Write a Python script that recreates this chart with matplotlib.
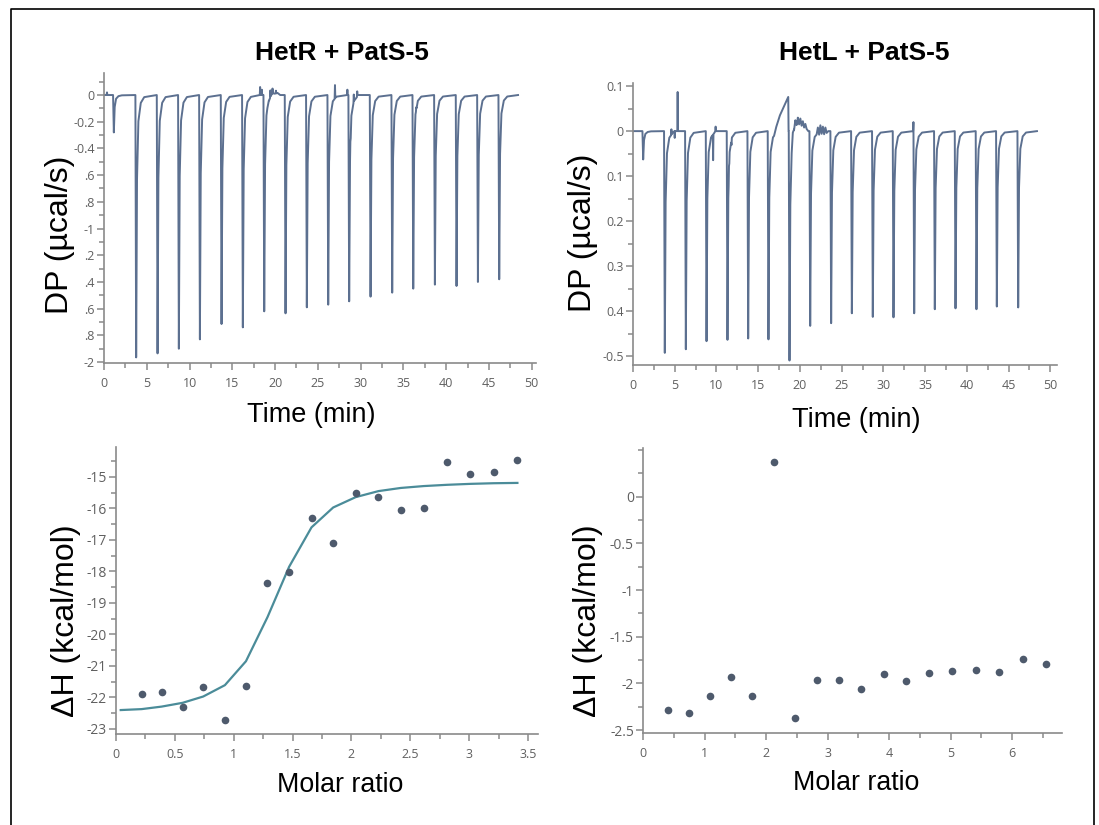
import matplotlib
matplotlib.use("Agg")
import numpy as np
import matplotlib.pyplot as plt
from matplotlib.lines import Line2D
from matplotlib.ticker import MultipleLocator, FixedLocator, FuncFormatter

# ---- data ----
# HetR + PatS-5 thermogram: injection times (min) and peak DP (ucal/s)
hetr_inj_t = [1.09, 3.70, 6.20, 8.69, 11.15, 13.68, 16.17, 18.67, 21.16, 23.65,
              26.15, 28.60, 31.10, 33.63, 36.09, 38.62, 41.15, 43.65, 46.14]
hetr_inj_dp = [-0.28, -1.965, -1.935, -1.90, -1.83, -1.715, -1.74, -1.62, -1.635, -1.59,
               -1.57, -1.545, -1.51, -1.48, -1.45, -1.42, -1.43, -1.40, -1.38]
# short spikes on the baseline (time, DP)
hetr_spike_t = [0.35, 18.25, 18.45, 19.45, 19.7, 20.1, 27.0, 28.45, 28.8, 29.2, 29.6, 36.5]
hetr_spike_dp = [0.02, 0.06, 0.04, 0.05, 0.03, 0.02, 0.10, 0.04, 0.06, 0.05, 0.04, 0.02]
# slow baseline drift / noise (time, DP)
hetr_drift_t = [18.9, 19.1, 19.3, 19.55, 19.9, 20.3, 20.6]
hetr_drift_dp = [0.0, 0.02, 0.005, 0.025, 0.01, 0.015, 0.0]
hetr_end = 48.4

# HetL + PatS-5 thermogram
hetl_inj_t = [1.16, 3.75, 6.27, 8.75, 11.26, 13.74, 16.17, 18.69, 21.17, 23.68,
              26.16, 28.67, 31.15, 33.63, 36.10, 38.58, 41.09, 43.53, 46.09]
hetl_inj_dp = [-0.063, -0.493, -0.485, -0.467, -0.464, -0.461, -0.463, -0.510, -0.433, -0.427,
               -0.425, -0.413, -0.414, -0.405, -0.396, -0.394, -0.396, -0.390, -0.392]
hetl_spike_t = [4.6, 5.0, 5.35, 9.6, 9.9, 11.5, 11.8, 26.2, 33.6, 38.6]
hetl_spike_dp = [0.012, -0.015, 0.087, -0.057, 0.01, 0.02, -0.01, 0.04, 0.02, 0.01]
hetl_drift_t = [16.9, 17.6, 18.6, 18.64,
                19.0, 19.15, 19.3, 19.45, 19.6, 19.75, 19.9, 20.05, 20.2, 20.35, 20.5, 20.65, 20.8, 21.0,
                22.0, 22.15, 22.3, 22.45, 22.6, 22.75, 22.9, 23.05, 23.2, 23.4]
hetl_drift_dp = [0.0, 0.035, 0.076, 0.0,
                 0.0, 0.03, 0.018, 0.035, 0.02, 0.03, 0.015, 0.028, 0.012, 0.022, 0.008, 0.016, 0.005, 0.0,
                 0.0, 0.012, -0.008, 0.013, -0.006, 0.01, -0.007, 0.008, -0.004, 0.0]
hetl_end = 48.4

# integrated heats
hetr_ratio = [0.218, 0.388, 0.566, 0.741, 0.925, 1.104, 1.287, 1.471, 1.661,
              1.845, 2.037, 2.230, 2.419, 2.615, 2.813, 3.011, 3.209, 3.410]
hetr_dh = [-21.90, -21.82, -22.30, -21.66, -22.72, -21.63, -18.36, -18.03, -16.29,
           -17.11, -15.52, -15.65, -16.05, -15.99, -14.53, -14.92, -14.83, -14.46]
fit_ratio = [0.04] + hetr_ratio
fit_dh = [-22.40, -22.37, -22.29, -22.17, -21.97, -21.61, -20.85, -19.45, -17.85,
          -16.60, -15.97, -15.64, -15.45, -15.35, -15.29, -15.25, -15.22, -15.20, -15.19]

hetl_ratio = [0.407, 0.753, 1.095, 1.431, 1.778, 2.125, 2.477, 2.829, 3.192,
              3.550, 3.913, 4.282, 4.650, 5.030, 5.409, 5.789, 6.173, 6.558]
hetl_dh = [-2.286, -2.314, -2.136, -1.929, -2.129, 0.368, -2.371, -1.964, -1.964,
           -2.054, -1.900, -1.971, -1.893, -1.868, -1.854, -1.879, -1.739, -1.793]

hetr_ylabels = ["0", "-0.2", "-0.4", ".6", ".8", "-1", ".2", ".4", ".6", ".8", "-2"]
hetl_ylabels = ["0.1", "0", "0.1", "0.2", "0.3", "0.4", "-0.5"]

TRACE = "#5c7090"
FIT = "#4b8c99"
DOT = "#4e5a6c"
SPINE = "#8a8a8a"
TICKTXT = "#606060"
W, H = 1099, 825

plt.rcParams["font.family"] = ["Liberation Sans", "DejaVu Sans"]


def trace(inj_t, inj_dp, sp_t, sp_dp, dr_t, dr_dp, end):
    # each injection: sharp dip and fast recovery; components are summed
    parts = []
    for t, p in zip(inj_t, inj_dp):
        parts.append(([t - 0.03, t + 0.06, t + 0.16, t + 0.32, t + 0.6, t + 1.0],
                      [0.0, p, 0.32 * p, 0.1 * p, 0.03 * p, 0.008 * p]))
    for t, v in zip(sp_t, sp_dp):
        parts.append(([t - 0.04, t, t + 0.04], [0.0, v, 0.0]))
    parts.append((dr_t, dr_dp))
    grid = sorted(set([0.0, end] + [x for xs, _ in parts for x in xs]))
    grid = np.array([g for g in grid if 0 <= g <= end])
    y = np.zeros_like(grid)
    for xs, ys in parts:
        y += np.interp(grid, xs, ys, left=0.0, right=0.0)
    return grid, y


def make_axes(l, t, r, b, lsize):
    ax = fig.add_axes([l / W, 1 - b / H, (r - l) / W, (b - t) / H])
    for s in ["top", "right"]:
        ax.spines[s].set_visible(False)
    for s in ["left", "bottom"]:
        ax.spines[s].set_color(SPINE)
        ax.spines[s].set_linewidth(1.2)
    ax.tick_params(which="both", direction="out", color=SPINE, width=1.1,
                   labelcolor=TICKTXT, labelsize=9)
    ax.tick_params(axis="y", labelsize=lsize)
    ax.tick_params(which="major", length=5)
    ax.tick_params(which="minor", length=3.5)
    ax.tick_params(axis="y", pad=1.5)
    ax.tick_params(axis="x", pad=5)
    return ax


def fmt(v, pos):
    return "{:g}".format(v)


fig = plt.figure(figsize=(W / 100, H / 100), dpi=100)

# ---- top left: HetR thermogram ----
ax1 = make_axes(104, 73, 536, 363, 9)
tx, ty = trace(hetr_inj_t, hetr_inj_dp, hetr_spike_t, hetr_spike_dp,
               hetr_drift_t, hetr_drift_dp, hetr_end)
ax1.plot(tx, ty, color=TRACE, lw=1.4)
ax1.set_xlim(0, 50.5)
ax1.set_ylim(-2.007, 0.165)
ax1.yaxis.set_major_locator(FixedLocator([-0.2 * i for i in range(11)]))
ax1.set_yticklabels(hetr_ylabels)
ax1.yaxis.set_minor_locator(MultipleLocator(0.1))
ax1.xaxis.set_major_locator(MultipleLocator(5))
ax1.xaxis.set_minor_locator(MultipleLocator(2.5))

# ---- top right: HetL thermogram ----
ax2 = make_axes(633, 83, 1057, 365, 9)
tx, ty = trace(hetl_inj_t, hetl_inj_dp, hetl_spike_t, hetl_spike_dp,
               hetl_drift_t, hetl_drift_dp, hetl_end)
ax2.plot(tx, ty, color=TRACE, lw=1.4)
ax2.set_xlim(0, 50.8)
ax2.set_ylim(-0.52, 0.107)
ax2.yaxis.set_major_locator(FixedLocator([0.1 - 0.1 * i for i in range(7)]))
ax2.set_yticklabels(hetl_ylabels)
ax2.yaxis.set_minor_locator(MultipleLocator(0.05))
ax2.xaxis.set_major_locator(MultipleLocator(5))
ax2.xaxis.set_minor_locator(MultipleLocator(2.5))

# ---- bottom left: HetR isotherm ----
ax3 = make_axes(116, 447, 538, 734, 10)
ax3.plot(fit_ratio, fit_dh, color=FIT, lw=1.6)
ax3.plot(hetr_ratio, hetr_dh, "o", color=DOT, ms=5.5, mec="none")
ax3.set_xlim(0, 3.585)
ax3.set_ylim(-23.16, -14.05)
ax3.yaxis.set_major_locator(MultipleLocator(1))
ax3.yaxis.set_minor_locator(MultipleLocator(0.5))
ax3.xaxis.set_major_locator(MultipleLocator(0.5))
ax3.xaxis.set_minor_locator(MultipleLocator(0.25))
ax3.xaxis.set_major_formatter(FuncFormatter(fmt))
ax3.yaxis.set_major_formatter(FuncFormatter(fmt))

# ---- bottom right: HetL isotherm ----
ax4 = make_axes(643, 448, 1062, 733, 10)
ax4.plot(hetl_ratio, hetl_dh, "o", color=DOT, ms=5.5, mec="none")
ax4.set_xlim(0, 6.81)
ax4.set_ylim(-2.53, 0.52)
ax4.yaxis.set_major_locator(FixedLocator([0, -0.5, -1, -1.5, -2, -2.5]))
ax4.yaxis.set_minor_locator(MultipleLocator(0.25))
ax4.xaxis.set_major_locator(MultipleLocator(1))
ax4.xaxis.set_minor_locator(MultipleLocator(0.5))
ax4.xaxis.set_major_formatter(FuncFormatter(fmt))
ax4.yaxis.set_major_formatter(FuncFormatter(fmt))

for ax in (ax1, ax2, ax3, ax4):
    for lab in ax.get_xticklabels() + ax.get_yticklabels():
        lab.set_family(["Open Sans", "DejaVu Sans"])


def ftext(x, y, s, **kw):
    fig.text(x / W, 1 - y / H, s, ha="center", va="center", **kw)


ftext(342, 53, "HetR + PatS-5", fontsize=19, fontweight="bold")
ftext(864, 53, "HetL + PatS-5", fontsize=19, fontweight="bold")
ftext(60, 235, "DP (µcal/s)", fontsize=23, rotation=90)
ftext(583, 233, "DP (µcal/s)", fontsize=23, rotation=90)
ftext(311, 415, "Time (min)", fontsize=19.5)
ftext(856, 420, "Time (min)", fontsize=19.5)
ftext(66, 621, "ΔH (kcal/mol)", fontsize=23, rotation=90)
ftext(588, 621, "ΔH (kcal/mol)", fontsize=23, rotation=90)
ftext(340, 785, "Molar ratio", fontsize=19.3)
ftext(856, 783, "Molar ratio", fontsize=19.3)

# thin frame around the figure (left, top, right)
fig.add_artist(Line2D([11 / W, 11 / W, 1094 / W, 1094 / W],
                      [0, 1 - 9 / H, 1 - 9 / H, 0], color="black", lw=1.2))

fig.savefig("out.png", dpi=100)
